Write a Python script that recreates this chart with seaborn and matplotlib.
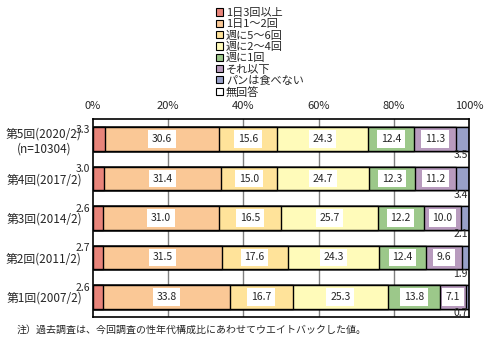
import matplotlib
matplotlib.use("Agg")
import matplotlib.pyplot as plt
from matplotlib.patches import Patch
import numpy as np
import pandas as pd
import seaborn as sns

# Survey rounds (top to bottom)
rounds = ["第5回(2020/2)\n(n=10304)", "第4回(2017/2)", "第3回(2014/2)",
          "第2回(2011/2)", "第1回(2007/2)"]

# Answer categories
answers = ["1日3回以上", "1日1～2回", "週に5～6回", "週に2～4回",
           "週に1回", "それ以下", "パンは食べない", "無回答"]

# Shares (%) per answer, ordered like `rounds`
v_3plus_day = [3.3, 3.0, 2.6, 2.7, 2.6]
v_1to2_day = [30.6, 31.4, 31.0, 31.5, 33.8]
v_5to6_week = [15.6, 15.0, 16.5, 17.6, 16.7]
v_2to4_week = [24.3, 24.7, 25.7, 24.3, 25.3]
v_1_week = [12.4, 12.3, 12.2, 12.4, 13.8]
v_less = [11.3, 11.2, 10.0, 9.6, 7.1]
v_never = [3.5, 3.4, 2.1, 1.9, 0.7]
v_no_answer = [0.0, 0.0, 0.0, 0.0, 0.0]

colors = ["#E8847A", "#FAC896", "#FFE39A", "#FFFBBA",
          "#9CC88A", "#B89BBE", "#98A0C8", "#FFFFFF"]

series = [v_3plus_day, v_1to2_day, v_5to6_week, v_2to4_week,
          v_1_week, v_less, v_never, v_no_answer]

vals = np.array(series, dtype=float).T          # rows: rounds, cols: answers
share = vals / vals.sum(axis=1, keepdims=True) * 100  # 100% stacked
cum = np.cumsum(share, axis=1)

sns.set_theme(style="white")
plt.rcParams["font.family"] = ["Noto Sans CJK JP", "DejaVu Sans"]

fig = plt.figure(figsize=(4.98, 3.48), dpi=100)
ax = fig.add_axes([0.1867, 0.0899, 0.7551, 0.5672])

# Vertical grid behind the bars
for gx in [20, 40, 60, 80]:
    ax.axvline(gx, color="#808080", lw=1.0, zorder=0)

# Stacked bars: draw cumulative totals from the widest down
for j in range(len(answers) - 1, -1, -1):
    df = pd.DataFrame({"round": rounds, "cum": cum[:, j]})
    sns.barplot(data=df, x="cum", y="round", orient="h", color=colors[j],
                saturation=1, edgecolor="black", linewidth=1.0,
                width=0.59, ax=ax, zorder=2)

# Value labels
half = 0.295
for i in range(len(rounds)):
    for j in range(len(answers) - 1):
        v = vals[i, j]
        txt = f"{v:.1f}"
        if j == 0:
            ax.text(-2.8, i - half + 0.06, txt, ha="center", va="center",
                    fontsize=7.5, clip_on=False, zorder=5)
        elif j == 6:
            ax.text(99.7, i + half + 0.12, txt, ha="right", va="center",
                    fontsize=7.5, clip_on=False, zorder=5)
        else:
            xc = cum[i, j] - share[i, j] / 2
            ax.text(xc, i, txt, ha="center", va="center", fontsize=7.5,
                    zorder=5,
                    bbox=dict(boxstyle="square,pad=0.35", fc="white",
                              ec="none"))

ax.set_xlim(0, 100)
ax.set_ylim(4.5, -0.5)
ax.set_xticks([0, 20, 40, 60, 80, 100])
ax.set_xticklabels(["0%", "20%", "40%", "60%", "80%", "100%"], fontsize=8)
ax.xaxis.tick_top()
ax.tick_params(axis="x", length=0, pad=6)
ax.tick_params(axis="y", length=0, pad=8, labelsize=8.5)
for lab in ax.get_yticklabels():
    lab.set_multialignment("center")
ax.set_xlabel("")
ax.set_ylabel("")
for s in ax.spines.values():
    s.set_visible(True)
    s.set_color("black")
    s.set_linewidth(1.2)

handles = [Patch(facecolor=c, edgecolor="black", linewidth=0.8)
           for c in colors]
fig.legend(handles, answers, loc="upper left",
           bbox_to_anchor=(216 / 498, 1 - 8 / 348), frameon=False,
           fontsize=8, handlelength=0.65, handleheight=0.65,
           handletextpad=0.25, labelspacing=0.1, borderpad=0,
           borderaxespad=0)

fig.text(17 / 498, 1 - 330 / 348,
         "注）過去調査は、今回調査の性年代構成比にあわせてウエイトバックした値。",
         fontsize=7.2, ha="left", va="center")

fig.savefig("out.png", dpi=100)
